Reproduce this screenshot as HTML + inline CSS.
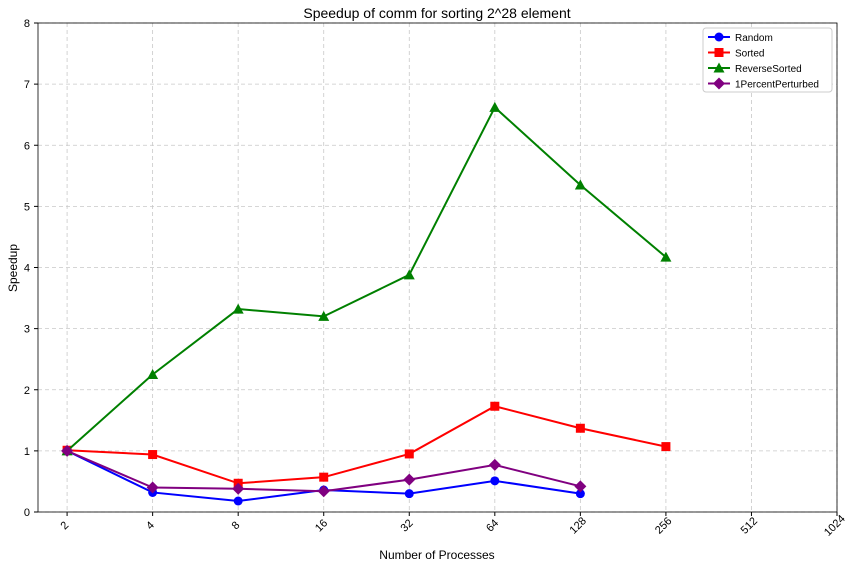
<!DOCTYPE html>
<html><head><meta charset="utf-8"><style>
body{margin:0;background:#fff;font-family:"Liberation Sans",sans-serif;}
svg text{font-family:"Liberation Sans",sans-serif;}
</style></head><body>
<svg id="chart" width="856" height="568" xmlns="http://www.w3.org/2000/svg"></svg>
<script>
const categories=[2,4,8,16,32,64,128,256,512,1024];
const yTicks=[0,1,2,3,4,5,6,7,8];
const seriesNames=["Random","Sorted","ReverseSorted","1PercentPerturbed"];
const randomVals=[1.0,0.32,0.18,0.36,0.30,0.51,0.30];
const sortedVals=[1.01,0.94,0.47,0.57,0.95,1.73,1.37,1.07];
const reverseVals=[1.0,2.25,3.32,3.20,3.88,6.62,5.35,4.17];
const perturbedVals=[1.0,0.40,0.38,0.34,0.53,0.77,0.42];

const svg=document.getElementById('chart');
const NS='http://www.w3.org/2000/svg';
const L=38,R=837,T=23,B=512;
const xMin=0.66,xMax=10;
function xs(v){return L+(Math.log2(v)-xMin)/(xMax-xMin)*(R-L);}
function ys(v){return B-v/8*(B-T);}
function mk(tag,attrs,parent){const e=document.createElementNS(NS,tag);for(const k in attrs)e.setAttribute(k,attrs[k]);(parent||svg).appendChild(e);return e;}

// grid
categories.forEach(c=>{
  const g=mk('line',{x1:xs(c),x2:xs(c),y1:T,y2:B,stroke:'#c8c8c8','stroke-dasharray':'4,3','stroke-width':0.8});
  
  
  const tk=mk('line',{x1:xs(c),x2:xs(c),y1:B,y2:B+4,stroke:'#000'});
  
  
  const t=mk('text',{x:xs(c),y:B+16,'font-size':11,'text-anchor':'middle',transform:`rotate(-45 ${xs(c)} ${B+16})`});
  t.textContent=c;
  
  
});
yTicks.forEach(v=>{
  const g=mk('line',{x1:L,x2:R,y1:ys(v),y2:ys(v),stroke:'#c8c8c8','stroke-dasharray':'4,3','stroke-width':0.8});
  
  
  const tk=mk('line',{x1:L-4,x2:L,y1:ys(v),y2:ys(v),stroke:'#000'});
  
  
  const t=mk('text',{x:L-8,y:ys(v)+4,'font-size':11,'text-anchor':'end'});
  t.textContent=v;
  
  
});
const frame=mk('rect',{x:L,y:T,width:R-L,height:B-T,fill:'none',stroke:'#000','stroke-width':0.8});



function marker(type,x,y,color,parent){
  if(type==='circle')return mk('circle',{cx:x,cy:y,r:4.5,fill:color},parent);
  if(type==='square')return mk('rect',{x:x-4.5,y:y-4.5,width:9,height:9,fill:color},parent);
  if(type==='tri')return mk('polygon',{points:`${x},${y-5.5} ${x-5.5},${y+4.5} ${x+5.5},${y+4.5}`,fill:color},parent);
  return mk('polygon',{points:`${x},${y-6} ${x+6},${y} ${x},${y+6} ${x-6},${y}`,fill:color},parent);
}
const defs=[[randomVals,'#0000ff','circle','random'],[sortedVals,'#ff0000','square','sorted'],[reverseVals,'#008000','tri','reverse-sorted'],[perturbedVals,'#800080','diamond','1percent-perturbed']];
defs.forEach(([vals,col,mt,nm])=>{
  const g=mk('g',{});
  
  
  const pts=vals.map((v,i)=>`${xs(categories[i])},${ys(v)}`).join(' ');
  const pl=mk('polyline',{points:pts,fill:'none',stroke:col,'stroke-width':2},g);
  
  
  vals.forEach((v,i)=>{
    const m=marker(mt,xs(categories[i]),ys(v),col,g);
    
    
  });
});

// legend
const lg=mk('g',{});


mk('rect',{x:703,y:28,width:129,height:64,fill:'#fff',stroke:'#ccc',rx:3},lg);
defs.forEach(([vals,col,mt,nm],i)=>{
  const y=37+i*15.5;
  const e=mk('g',{},lg);
  
  
  mk('line',{x1:708,x2:730,y1:y,y2:y,stroke:col,'stroke-width':2},e);
  marker(mt,719,y,col,e);
  const t=mk('text',{x:735,y:y+4,'font-size':10},e);
  t.textContent=seriesNames[i];
});

const title=mk('text',{x:437,y:18,'font-size':14,'text-anchor':'middle'});
title.textContent='Speedup of comm for sorting 2^28 element';


const xt=mk('text',{x:437,y:559,'font-size':12,'text-anchor':'middle'});
xt.textContent='Number of Processes';


const yt=mk('text',{x:17,y:268,'font-size':12,'text-anchor':'middle',transform:'rotate(-90 17 268)'});
yt.textContent='Speedup';


</script>
</body></html>
